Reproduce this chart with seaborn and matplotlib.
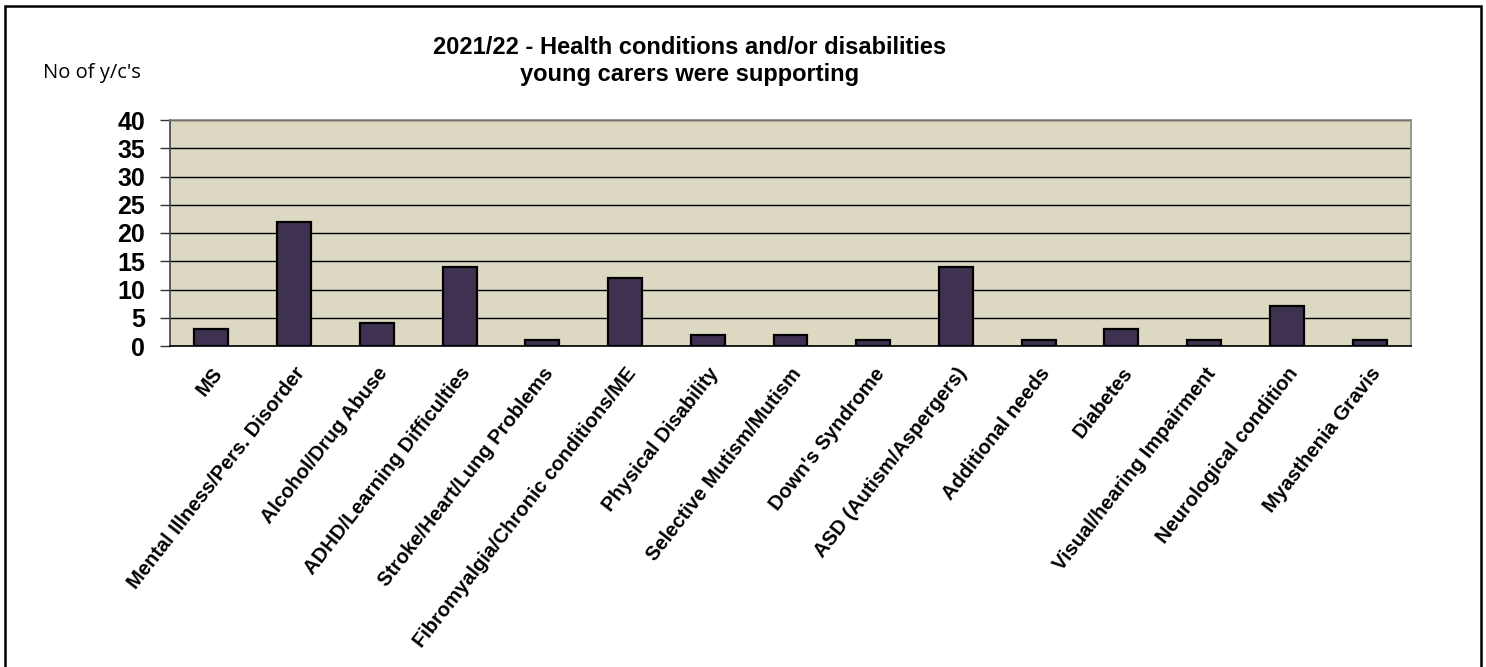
import matplotlib
matplotlib.use("Agg")
import matplotlib.pyplot as plt
import matplotlib.patches as mpatches
from matplotlib.ticker import FixedLocator
import seaborn as sns
import pandas as pd

# Conditions supported by young carers, 2021/22
categories = [
    "MS",
    "Mental Illness/Pers. Disorder",
    "Alcohol/Drug Abuse",
    "ADHD/Learning Difficulties",
    "Stroke/Heart/Lung Problems",
    "Fibromyalgia/Chronic conditions/ME",
    "Physical Disability",
    "Selective Mutism/Mutism",
    "Down's Syndrome",
    "ASD (Autism/Aspergers)",
    "Additional needs",
    "Diabetes",
    "Visual/hearing Impairment",
    "Neurological condition",
    "Myasthenia Gravis",
]
counts = [3, 22, 4, 14, 1, 12, 2, 2, 1, 14, 1, 3, 1, 7, 1]
y_ticks = [0, 5, 10, 15, 20, 25, 30, 35, 40]

title_text = "2021/22 - Health conditions and/or disabilities\nyoung carers were supporting"
ylabel_text = "No of y/c's"

sns.set_style("white")
plt.rcParams["font.family"] = ["Liberation Sans", "DejaVu Sans"]
plt.rcParams["text.color"] = "black"
plt.rcParams["xtick.labelcolor"] = "black"
plt.rcParams["ytick.labelcolor"] = "black"

W, H = 1486, 667
fig = plt.figure(figsize=(W / 100, H / 100), dpi=100)
fig.patch.set_facecolor("white")

# plot area in pixel terms
left, right, top, bottom = 170, 1411, 120, 346
ax = fig.add_axes([left / W, 1 - bottom / H, (right - left) / W, (bottom - top) / H])

df = pd.DataFrame({"condition": categories, "count": counts})
sns.barplot(data=df, x="condition", y="count", color="#3f3150", width=0.41,
            edgecolor="black", linewidth=1.6, saturation=1, ax=ax, zorder=3)

ax.set_facecolor("#ddd8c2")
ax.set_ylim(0, 40)
ax.set_xlim(-0.5, len(categories) - 0.5)
ax.set_yticks(y_ticks)
ax.set_yticklabels([str(v) for v in y_ticks], fontsize=18, fontweight="bold", color="black")
ax.yaxis.grid(True, color="black", linewidth=1.0)
ax.set_axisbelow(True)
ax.set_xlabel("")
ax.set_ylabel("")

# category labels at bar centres, tick marks at category boundaries
ax.set_xticks(range(len(categories)))
ax.set_xticklabels(categories, rotation=52, ha="right", rotation_mode="anchor",
                   fontsize=14.5, fontweight="bold", color="black")
ax.tick_params(axis="x", which="major", length=0, pad=13)
ax.xaxis.set_minor_locator(FixedLocator([i - 0.5 for i in range(len(categories) + 1)]))
ax.tick_params(axis="x", which="minor", length=7, width=1.0, color="#333333", direction="out")
ax.tick_params(axis="y", length=7, width=1.0, color="#333333", direction="out", pad=11, left=True)

for side, col in (("left", "#444444"), ("top", "#888888"), ("right", "#888888"), ("bottom", "black")):
    ax.spines[side].set_visible(True)
    ax.spines[side].set_color(col)
    ax.spines[side].set_linewidth(1.2)

fig.text(690 / W, 1 - 61 / H, title_text, ha="center", va="center", fontsize=17,
         fontweight="bold", linespacing=1.25, color="black")
fig.text(43 / W, 1 - 73 / H, ylabel_text, ha="left", va="center", fontsize=14.5,
         family=["Open Sans", "DejaVu Sans"], color="black")

# outer chart frame (open at the bottom edge)
frame = mpatches.Rectangle((5 / W, -0.05), (1481 - 5) / W, 1.05 - 6 / H,
                           transform=fig.transFigure, fill=False,
                           edgecolor="black", linewidth=1.8)
fig.patches.append(frame)

fig.savefig("out.png", dpi=100, facecolor="white")
